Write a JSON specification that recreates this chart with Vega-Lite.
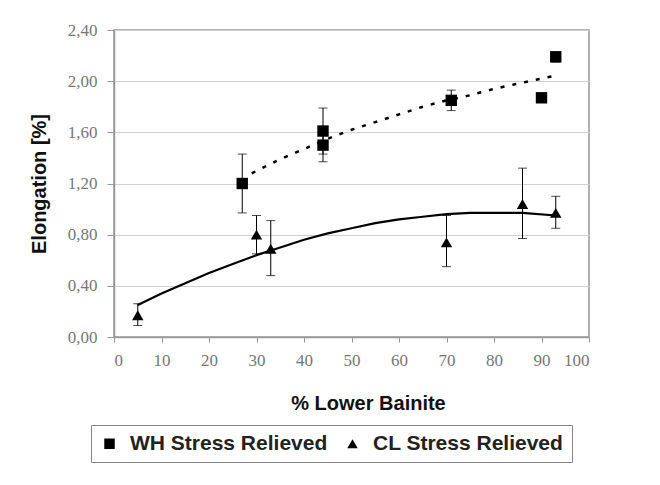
{
  "$schema": "https://vega.github.io/schema/vega-lite/v6.json",
  "width": 475,
  "height": 307,
  "autosize": {"type": "none"},
  "padding": {"left": 114, "top": 30, "right": 71, "bottom": 148},
  "background": "white",
  "config": {
    "view": {"stroke": "#999999", "strokeWidth": 1.5},
    "axis": {
      "labelFont": "Liberation Serif",
      "labelFontSize": 17,
      "labelColor": "#777777",
      "titleFont": "Liberation Sans",
      "titleFontWeight": "bold",
      "titleFontSize": 20,
      "titleColor": "#111111",
      "domainColor": "#999999",
      "tickColor": "#999999",
      "gridColor": "#d0d0d0",
      "domainWidth": 1.5
    }
  },
  "datasets": {
    "pts": [
      {"series": "WH Stress Relieved", "x": 27, "y": 1.20, "lo": 0.97, "hi": 1.43},
      {"series": "WH Stress Relieved", "x": 44, "y": 1.61, "lo": 1.43, "hi": 1.79},
      {"series": "WH Stress Relieved", "x": 44, "y": 1.50, "lo": 1.37, "hi": 1.63},
      {"series": "WH Stress Relieved", "x": 71, "y": 1.85, "lo": 1.77, "hi": 1.93},
      {"series": "WH Stress Relieved", "x": 90, "y": 1.87, "lo": null, "hi": null},
      {"series": "WH Stress Relieved", "x": 93, "y": 2.19, "lo": 2.15, "hi": 2.23},
      {"series": "CL Stress Relieved", "x": 5, "y": 0.17, "lo": 0.09, "hi": 0.26},
      {"series": "CL Stress Relieved", "x": 30, "y": 0.80, "lo": 0.65, "hi": 0.95},
      {"series": "CL Stress Relieved", "x": 33, "y": 0.69, "lo": 0.48, "hi": 0.91},
      {"series": "CL Stress Relieved", "x": 70, "y": 0.74, "lo": 0.55, "hi": 0.95},
      {"series": "CL Stress Relieved", "x": 86, "y": 1.04, "lo": 0.77, "hi": 1.32},
      {"series": "CL Stress Relieved", "x": 93, "y": 0.97, "lo": 0.85, "hi": 1.10}
    ],
    "whfit": [
      {"x": 29, "y": 1.28}, {"x": 35, "y": 1.39}, {"x": 40, "y": 1.47},
      {"x": 45, "y": 1.55}, {"x": 50, "y": 1.62}, {"x": 55, "y": 1.68},
      {"x": 60, "y": 1.74}, {"x": 65, "y": 1.80}, {"x": 70, "y": 1.85},
      {"x": 75, "y": 1.89}, {"x": 80, "y": 1.94}, {"x": 85, "y": 1.98},
      {"x": 92.5, "y": 2.04}
    ],
    "clfit": [
      {"x": 5, "y": 0.25}, {"x": 10, "y": 0.34}, {"x": 15, "y": 0.42},
      {"x": 20, "y": 0.50}, {"x": 25, "y": 0.57}, {"x": 30, "y": 0.64},
      {"x": 35, "y": 0.70}, {"x": 40, "y": 0.76}, {"x": 45, "y": 0.81},
      {"x": 50, "y": 0.85}, {"x": 55, "y": 0.89}, {"x": 60, "y": 0.92},
      {"x": 65, "y": 0.94}, {"x": 70, "y": 0.96}, {"x": 75, "y": 0.97},
      {"x": 80, "y": 0.97}, {"x": 86, "y": 0.97}, {"x": 93, "y": 0.95}
    ]
  },
  "encoding": {
    "x": {
      "field": "x", "type": "quantitative",
      "scale": {"domain": [0, 100], "nice": false},
      "axis": {
        "values": [0, 10, 20, 30, 40, 50, 60, 70, 80, 90, 100],
        "grid": false, "tickSize": 5, "labelPadding": 10,
        "title": "% Lower Bainite",
        "titleX": 254, "titleY": 66, "titleAnchor": null, "titleBaseline": "middle"
      }
    },
    "y": {
      "field": "y", "type": "quantitative",
      "scale": {"domain": [0, 2.4], "nice": false},
      "axis": {
        "values": [0, 0.4, 0.8, 1.2, 1.6, 2.0, 2.4],
        "labelExpr": "replace(format(datum.value, '.2f'), '.', ',')",
        "grid": true, "tickSize": 7, "labelPadding": 10,
        "title": "Elongation [%]",
        "titleX": -75, "titleY": 153.5, "titleAngle": -90,
        "titleAlign": "center", "titleBaseline": "middle"
      }
    }
  },
  "layer": [
    {
      "data": {"name": "clfit"},
      "mark": {"type": "line", "color": "black", "strokeWidth": 2.2},
      "encoding": {}
    },
    {
      "data": {"name": "whfit"},
      "mark": {"type": "line", "color": "black", "strokeWidth": 2.5, "strokeDash": [4, 8]},
      "encoding": {}
    },
    {
      "data": {"name": "pts"},
      "transform": [{"filter": "datum.lo != null"}],
      "mark": {"type": "rule", "color": "black", "strokeWidth": 1},
      "encoding": {"y": {"field": "lo", "type": "quantitative"}, "y2": {"field": "hi"}}
    },
    {
      "data": {"name": "pts"},
      "transform": [{"filter": "datum.lo != null"}],
      "mark": {"type": "tick", "color": "black", "orient": "horizontal", "size": 9, "thickness": 1},
      "encoding": {"y": {"field": "lo", "type": "quantitative"}}
    },
    {
      "data": {"name": "pts"},
      "transform": [{"filter": "datum.hi != null"}],
      "mark": {"type": "tick", "color": "black", "orient": "horizontal", "size": 9, "thickness": 1},
      "encoding": {"y": {"field": "hi", "type": "quantitative"}}
    },
    {
      "data": {"name": "pts"},
      "mark": {"type": "point", "filled": true, "color": "black", "opacity": 1, "size": 130},
      "encoding": {
        "shape": {
          "field": "series", "type": "nominal",
          "scale": {"domain": ["WH Stress Relieved", "CL Stress Relieved"], "range": ["square", "triangle-up"]},
          "legend": {
            "title": null, "orient": "none", "direction": "horizontal",
            "legendX": -23, "legendY": 395,
            "strokeColor": "#888888", "padding": 8,
            "labelFont": "Liberation Sans", "labelFontWeight": "bold", "labelFontSize": 21,
            "labelColor": "#222222", "labelOffset": 10, "columnPadding": 14, "labelLimit": 0,
            "symbolSize": 110, "symbolFillColor": "black", "symbolStrokeColor": "black",
            "symbolOpacity": 1
          }
        }
      }
    }
  ]
}
